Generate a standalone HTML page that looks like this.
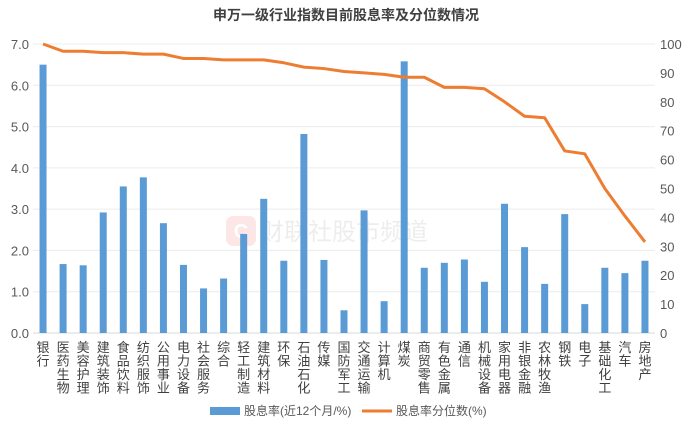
<!DOCTYPE html>
<html><head><meta charset="utf-8"><style>
body{margin:0;background:#fff;}
svg{display:block;font-family:"Liberation Sans","Noto Sans CJK SC",sans-serif;}
</style></head><body>
<svg id="c" width="692" height="433">
<text x="346" y="20" text-anchor="middle" font-size="14" font-weight="bold" fill="#404040">申万一级行业指数目前股息率及分位数情况</text>
<g opacity="0.25"><rect x="226" y="216" width="30" height="30" rx="7" fill="#f4a0a0"/><text x="241" y="238" text-anchor="middle" font-size="20" font-weight="bold" fill="#fff">C</text><text x="260" y="240" font-size="24" fill="#bbb">财联社股市频道</text></g>
<g id="grid"></g><g id="bars"></g><g id="line"></g><g id="axes"></g>
<g>
<rect x="210" y="407" width="30" height="8" fill="#5b9bd5"/>
<text x="244" y="415" font-size="12" fill="#595959">股息率(近12个月/%)</text>
<line x1="362" y1="411" x2="392" y2="411" stroke="#ed7d31" stroke-width="3"/>
<text x="396" y="415" font-size="12" fill="#595959">股息率分位数(%)</text>
</g>
</svg>
<script>
const categories=["银行","医药生物","美容护理","建筑装饰","食品饮料","纺织服饰","公用事业","电力设备","社会服务","综合","轻工制造","建筑材料","环保","石油石化","传媒","国防军工","交通运输","计算机","煤炭","商贸零售","有色金属","通信","机械设备","家用电器","非银金融","农林牧渔","钢铁","电子","基础化工","汽车","房地产"];
const yieldValues=[6.5,1.67,1.64,2.92,3.55,3.77,2.66,1.65,1.08,1.32,2.4,3.25,1.75,4.82,1.77,0.55,2.97,0.77,6.58,1.58,1.70,1.78,1.24,3.13,2.08,1.19,2.88,0.70,1.58,1.45,1.75];
const percentileValues=[100,97.5,97.5,97,97,96.5,96.5,95,95,94.5,94.5,94.5,93.5,92,91.5,90.5,90,89.5,88.5,88.5,85,85,84.5,80,75,74.5,63,62,50,40.5,31.5];
const leftTicks=["0.0","1.0","2.0","3.0","4.0","5.0","6.0","7.0"];
const rightTicks=["0","10","20","30","40","50","60","70","80","90","100"];
const NS="http://www.w3.org/2000/svg";
const x0=33,x1=655,yB=333,yT=44;
const step=(x1-x0)/categories.length;
const xc=i=>x0+step*(i+0.5);
const yL=v=>yB-(v/7)*(yB-yT);
const yR=v=>yB-(v/100)*(yB-yT);
function mk(t,a,p){const e=document.createElementNS(NS,t);for(const k in a)e.setAttribute(k,a[k]);p.appendChild(e);return e;}
const grid=document.getElementById('grid'),axes=document.getElementById('axes');
leftTicks.forEach(t=>{const v=+t,y=yL(v);
const g=mk('line',{x1:x0,x2:x1,y1:y,y2:y,stroke:v===0?'#d9d9d9':'#ececec','stroke-width':1},grid);


const tx=mk('text',{x:29,y:y+5,'text-anchor':'end','font-size':13,fill:'#595959'},axes);tx.textContent=t;

});
rightTicks.forEach(t=>{const y=yR(+t);
const tx=mk('text',{x:660,y:y+5,'font-size':13,fill:'#595959'},axes);tx.textContent=t;

});
const bars=document.getElementById('bars');
yieldValues.forEach((v,i)=>{const r=mk('rect',{x:xc(i)-3.5,y:yL(v),width:7,height:yB-yL(v),fill:'#5b9bd5'},bars);

});
const pl=mk('polyline',{points:percentileValues.map((v,i)=>xc(i)+','+yR(v)).join(' '),fill:'none',stroke:'#ed7d31','stroke-width':3,'stroke-linejoin':'round'},document.getElementById('line'));


categories.forEach((c,i)=>{const g=mk('g',{},axes);


[...c].forEach((ch,j)=>{const t=mk('text',{x:xc(i),y:352+j*13.5,'font-size':13,fill:'#404040','text-anchor':'middle'},g);t.textContent=ch;});});
</script>
</body></html>
